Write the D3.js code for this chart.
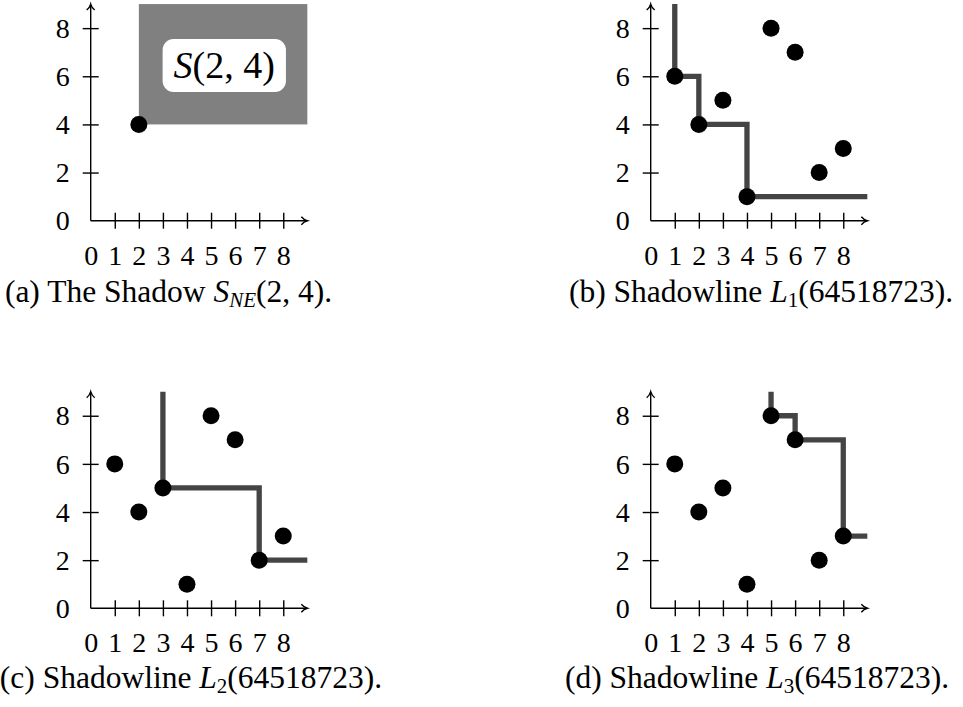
<!DOCTYPE html>
<html>
<head>
<meta charset="utf-8">
<script src="https://cdn.jsdelivr.net/npm/d3@7"></script>
<style>
  body { margin: 0; background: #fff; }
  svg { display: block; }
  text { font-family: "Liberation Serif", "DejaVu Serif", serif; fill: #000; }
  .axis text { font-size: 28px; }
</style>
</head>
<body>
<svg id="chart" width="963" height="707"></svg>
<script>
// Permutation 64518723 -> points (i, perm[i-1])
const permutation = [6, 4, 5, 1, 8, 7, 2, 3];
const xTicks = [0, 1, 2, 3, 4, 5, 6, 7, 8];
const yTicks = [0, 2, 4, 6, 8];

// panel (a): a single point and its north-east shadow
const shadowPoint = [2, 4];
const shadowCorner = [9, 9];
const shadowLabelPos = [5.55, 6.45];

// shadowlines
const shadowL1 = [[1, 9], [1, 6], [2, 6], [2, 4], [4, 4], [4, 1], [9, 1]];
const shadowL2 = [[3, 9], [3, 5], [7, 5], [7, 2], [9, 2]];
const shadowL3 = [[5, 9], [5, 8], [6, 8], [6, 7], [8, 7], [8, 3], [9, 3]];

const points = permutation.map((v, i) => [i + 1, v]);

const svg = d3.select("#chart");
const unit = 24.07;
const x = d3.scaleLinear().domain([0, 9]).range([0, 9 * unit]);
const y = d3.scaleLinear().domain([0, 9]).range([9 * unit, 0]);

const panels = [
    { left: 90.7, top: 220.7 - 9 * unit, line: null, pts: [shadowPoint], shadow: true,
      caption: { cx: 168.5, by: 307, parts: [["(a) The Shadow ", ""], ["S", "i"], ["NE", "s"], ["(2, 4).", ""]] } },
    { left: 650.7, top: 220.7 - 9 * unit, line: shadowL1, pts: points,
      caption: { cx: 761, by: 307, parts: [["(b) Shadowline ", ""], ["L", "i"], ["1", "s"], ["(64518723).", ""]] } },
    { left: 90.7, top: 608.3 - 9 * unit, line: shadowL2, pts: points,
      caption: { cx: 191, by: 693, parts: [["(c) Shadowline ", ""], ["L", "i"], ["2", "s"], ["(64518723).", ""]] } },
    { left: 650.7, top: 608.3 - 9 * unit, line: shadowL3, pts: points,
      caption: { cx: 757, by: 693, parts: [["(d) Shadowline ", ""], ["L", "i"], ["3", "s"], ["(64518723).", ""]] } }
];

panels.forEach(p => drawPanel(p));

function drawPanel(p) {
    const g = svg.append("g").attr("transform", `translate(${p.left},${p.top})`);

    if (p.shadow) {
        g.append("rect")
            .attr("x", x(shadowPoint[0]))
            .attr("y", y(shadowCorner[1]))
            .attr("width", x(shadowCorner[0]) - x(shadowPoint[0]))
            .attr("height", y(shadowPoint[1]) - y(shadowCorner[1]))
            .attr("fill", "#808080");

        const label = g.append("text")
            .attr("x", x(shadowLabelPos[0]))
            .attr("y", y(shadowLabelPos[1]))
            .attr("dy", "0.33em")
            .attr("text-anchor", "middle")
            .style("font-size", "38px");
        label.append("tspan").style("font-style", "italic").text("S");
        label.append("tspan").text("(2, 4)");
        const bb = label.node().getBBox();
        g.insert("rect", "text")
            .attr("x", bb.x - 11)
            .attr("y", bb.y - 5)
            .attr("width", bb.width + 22)
            .attr("height", bb.height + 10)
            .attr("rx", 11)
            .attr("fill", "#fff");
    }

    // axes
    const xAxis = g.append("g")
        .attr("class", "axis")
        .attr("transform", `translate(0,${y(0)})`)
        .call(d3.axisBottom(x).tickValues(xTicks).tickSize(8).tickFormat(d3.format("d")))
        .attr("font-size", 28)
        .attr("font-family", "Liberation Serif");
    xAxis.select(".domain").remove();
    xAxis.selectAll(".tick line").attr("y1", -8).attr("y2", 8).attr("stroke-width", 1.4).attr("stroke", "#000");
    xAxis.selectAll(".tick line").filter(d => d === 0).remove();
    xAxis.selectAll(".tick text").attr("y", 44).attr("dy", 0);

    const yAxis = g.append("g")
        .attr("class", "axis")
        .call(d3.axisLeft(y).tickValues(yTicks).tickSize(8).tickFormat(d3.format("d")))
        .attr("font-size", 28)
        .attr("font-family", "Liberation Serif");
    yAxis.select(".domain").remove();
    yAxis.selectAll(".tick line").attr("x1", -8).attr("x2", 8).attr("stroke-width", 1.4).attr("stroke", "#000");
    yAxis.selectAll(".tick line").filter(d => d === 0).remove();
    yAxis.selectAll(".tick text").attr("x", -21).attr("dy", "0.33em");

    g.append("line").attr("x1", x(0)).attr("y1", y(0)).attr("x2", x(9) - 1).attr("y2", y(0))
        .attr("stroke", "#000").attr("stroke-width", 1.4);
    g.append("line").attr("x1", x(0)).attr("y1", y(0)).attr("x2", x(0)).attr("y2", y(9) + 1)
        .attr("stroke", "#000").attr("stroke-width", 1.4);
    // arrow heads
    const arrow = "M-6,-4 C-4,-1.6 -1.5,-0.4 0,0 C-1.5,0.4 -4,1.6 -6,4";
    g.append("path").attr("d", arrow)
        .attr("transform", `translate(${x(9)},${y(0)})`)
        .attr("fill", "none").attr("stroke", "#000").attr("stroke-width", 1.4);
    g.append("path").attr("d", arrow)
        .attr("transform", `translate(${x(0)},${y(9)}) rotate(-90)`)
        .attr("fill", "none").attr("stroke", "#000").attr("stroke-width", 1.4);

    // shadowline
    if (p.line) {
        g.append("path")
            .datum(p.line)
            .attr("d", d3.line().x(d => x(d[0])).y(d => y(d[1])))
            .attr("fill", "none")
            .attr("stroke", "#444")
            .attr("stroke-width", 5.3)
            .attr("stroke-linejoin", "miter");
    }

    g.selectAll("circle.pt")
        .data(p.pts)
        .enter()
        .append("circle")
        .attr("class", "pt")
        .attr("cx", d => x(d[0]))
        .attr("cy", d => y(d[1]))
        .attr("r", 8.5)
        .attr("fill", "#000");

    // caption
    const cap = svg.append("text")
        .attr("x", p.caption.cx)
        .attr("y", p.caption.by)
        .attr("text-anchor", "middle")
        .style("font-size", "31.5px");
    p.caption.parts.forEach(([txt, kind]) => {
        const t = cap.append("tspan").text(txt);
        if (kind === "i") t.style("font-style", "italic");
        if (kind === "s") {
            t.style("font-size", "21px").attr("dy", 5);
            if (/[A-Z]/.test(txt)) t.style("font-style", "italic");
        }
        if (kind === "" && txt.startsWith("(") && txt.length > 3) t.attr("dy", -5);
    });
}
</script>
</body>
</html>
